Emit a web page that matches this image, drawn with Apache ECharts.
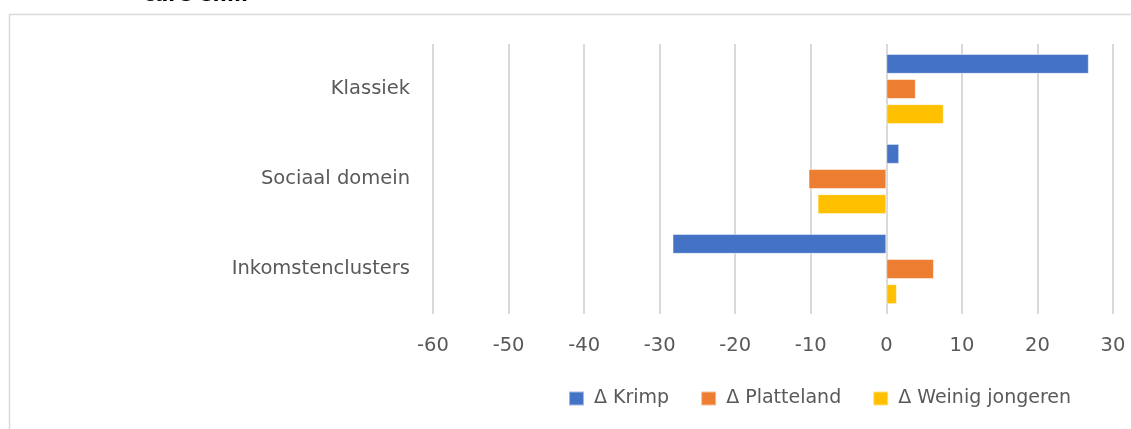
<!DOCTYPE html>
<html>
<head>
<meta charset="utf-8">
<script src="https://cdn.jsdelivr.net/npm/echarts@6/dist/echarts.min.js"></script>
<style>
  html, body { margin: 0; padding: 0; background: #fff; }
  #chart { width: 1131px; height: 429px; }
</style>
</head>
<body>
<div id="chart"></div>
<script>
// categories, top to bottom
const categories = ['Klassiek', 'Sociaal domein', 'Inkomstenclusters'];
const seriesNames = ['Δ Krimp', 'Δ Platteland', 'Δ Weinig jongeren'];
const krimp = [26.8, 1.7, -28.3];
const platteland = [3.9, -10.3, 6.3];
const weinigJongeren = [7.6, -9.1, 1.4];
const xTicks = { min: -60, max: 30, step: 10 };
const colors = ['#4472C4', '#ED7D31', '#FFC000'];

const chart = echarts.init(document.getElementById('chart'));
const textColor = '#595959';
const font = 'DejaVu Sans, Verdana, sans-serif';

const option = {
  animation: false,
  color: colors,
  textStyle: { fontFamily: font },
  graphic: [
    {
      type: 'rect',
      shape: { x: 9.5, y: 14.5, width: 1200, height: 500 },
      style: { fill: 'none', stroke: '#d9d9d9', lineWidth: 1.5 },
      silent: true
    },
    {
      type: 'text',
      left: 143, top: -14,
      style: { text: 'care e.m.', font: 'bold 20px ' + font, fill: '#000' },
      silent: true
    }
  ],
  grid: { left: 433, right: 18, top: 44, height: 270 },
  legend: {
    left: 568, top: 389, padding: 0,
    itemWidth: 15, itemHeight: 14, itemGap: 31,
    icon: 'rect',
    textStyle: { color: textColor, fontSize: 19, fontFamily: font, padding: [0, 0, 0, 5] },
    data: seriesNames
  },
  xAxis: {
    type: 'value',
    min: xTicks.min, max: xTicks.max, interval: xTicks.step,
    axisLine: { show: false },
    axisTick: { show: false },
    axisLabel: { color: textColor, fontSize: 19.5, margin: 22, fontFamily: font },
    splitLine: { lineStyle: { color: '#d9d9d9', width: 2 } }
  },
  yAxis: {
    type: 'category',
    inverse: true,
    data: categories,
    axisLine: { show: false },
    axisTick: { show: false },
    axisLabel: { color: textColor, fontSize: 19.5, margin: 23, fontFamily: font }
  },
  series: [krimp, platteland, weinigJongeren].map((d, i) => ({
    name: seriesNames[i],
    type: 'bar',
    data: d,
    barGap: '26%',
    barCategoryGap: '22%',
    itemStyle: { borderColor: 'rgba(255,255,255,0.5)', borderWidth: 1 }
  }))
};

chart.setOption(option);
</script>
</body>
</html>
